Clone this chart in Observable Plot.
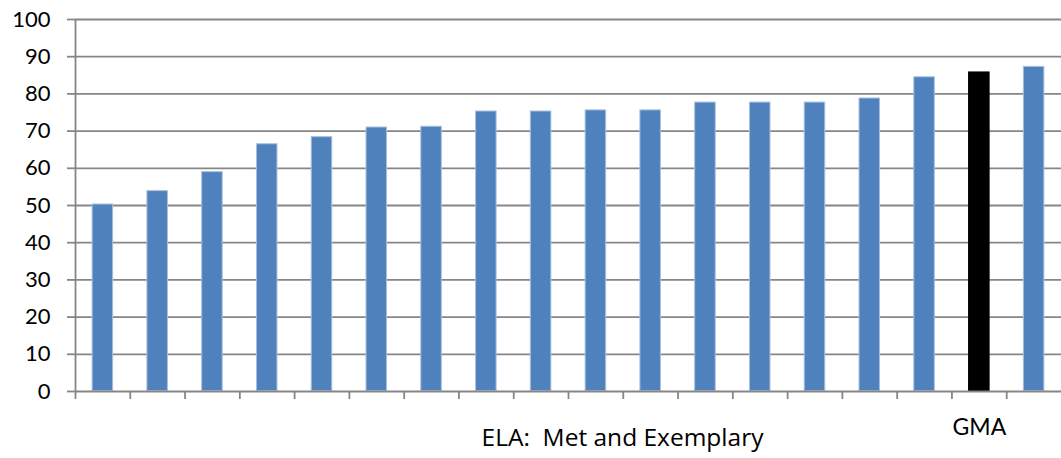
<!DOCTYPE html>
<html><head><meta charset="utf-8">
<script src="https://cdn.jsdelivr.net/npm/d3@7"></script>
<script src="https://cdn.jsdelivr.net/npm/@observablehq/plot@0.6"></script>
<style>body{margin:0;background:#fff}</style>
</head><body><div id="chart"></div>
<script>
// ---- data ----
const categories = ["D1","D2","D3","D4","D5","D6","D7","D8","D9","D10","D11","D12","D13","D14","D15","D16","GMA","D17"];
const values = [50.4,54.0,59.1,66.6,68.5,71.1,71.3,75.4,75.4,75.7,75.7,77.8,77.8,77.8,78.9,84.6,85.9,87.4];
const highlight = "GMA";
const yTicks = [0,10,20,30,40,50,60,70,80,90,100];
const xTitle = "ELA:\u00a0 Met and Exemplary";

// ---- layout ----
const W = 1061, H = 458, mL = 75, mR = 0, mT = 19, mB = 67;
const n = categories.length;
const padInner = 0.607, padOuter = padInner / 2;
const step = (W - mL - mR) / n;
const gridColor = "#868686";
const data = categories.map((c, i) => ({cat: c, value: values[i]}));

const chart = Plot.plot({
  width: W, height: H,
  marginLeft: mL, marginRight: mR, marginTop: mT, marginBottom: mB,
  style: {fontFamily: "Lato, 'Open Sans', sans-serif", background: "#fff", color: "#000"},
  x: {domain: categories, paddingInner: padInner, paddingOuter: padOuter, round: false, axis: null},
  y: {domain: [0, 100], axis: null},
  color: {type: "identity"},
  marks: [
    Plot.ruleY(yTicks.filter(d => d > 0), {y: d => d, stroke: gridColor, strokeWidth: 1.8}),
    Plot.barY(data, {x: "cat", y: "value",
      fill: d => d.cat === highlight ? "#000000" : "#4F81BD",
      stroke: d => d.cat === highlight ? "#000000" : "#a8c0de",
      strokeWidth: 1, inset: 0.5}),
    Plot.ruleY([0], {y: d => d, stroke: gridColor, strokeWidth: 1.8}),
    // y axis line
    Plot.ruleX([categories[0]], {x: d => d, y1: 0, y2: 100, dx: -step / 2, stroke: gridColor, strokeWidth: 1.8}),
    // x tick marks at category boundaries
    Plot.ruleX(categories, {x: d => d, y1: 0, y2: 0, insetBottom: -8, dx: -step / 2, stroke: gridColor, strokeWidth: 1.8}),
    Plot.axisY(yTicks, {label: null, tickSize: 8, tickPadding: 17, fontSize: 22, stroke: gridColor, strokeWidth: 1.8, fill: "#000", tickFormat: d => String(d)}),
    Plot.axisX({label: null, tickSize: 0, tickPadding: 27, fontSize: 23, fill: "#000", tickFormat: d => d === highlight ? d : ""}),
    Plot.text([xTitle], {frameAnchor: "bottom", lineAnchor: "top", dx: 54, dy: 37, fontSize: 24.5, fontFamily: "'Open Sans', sans-serif", fill: "#000"})
  ]
});
document.getElementById("chart").appendChild(chart);
</script>
</body></html>
